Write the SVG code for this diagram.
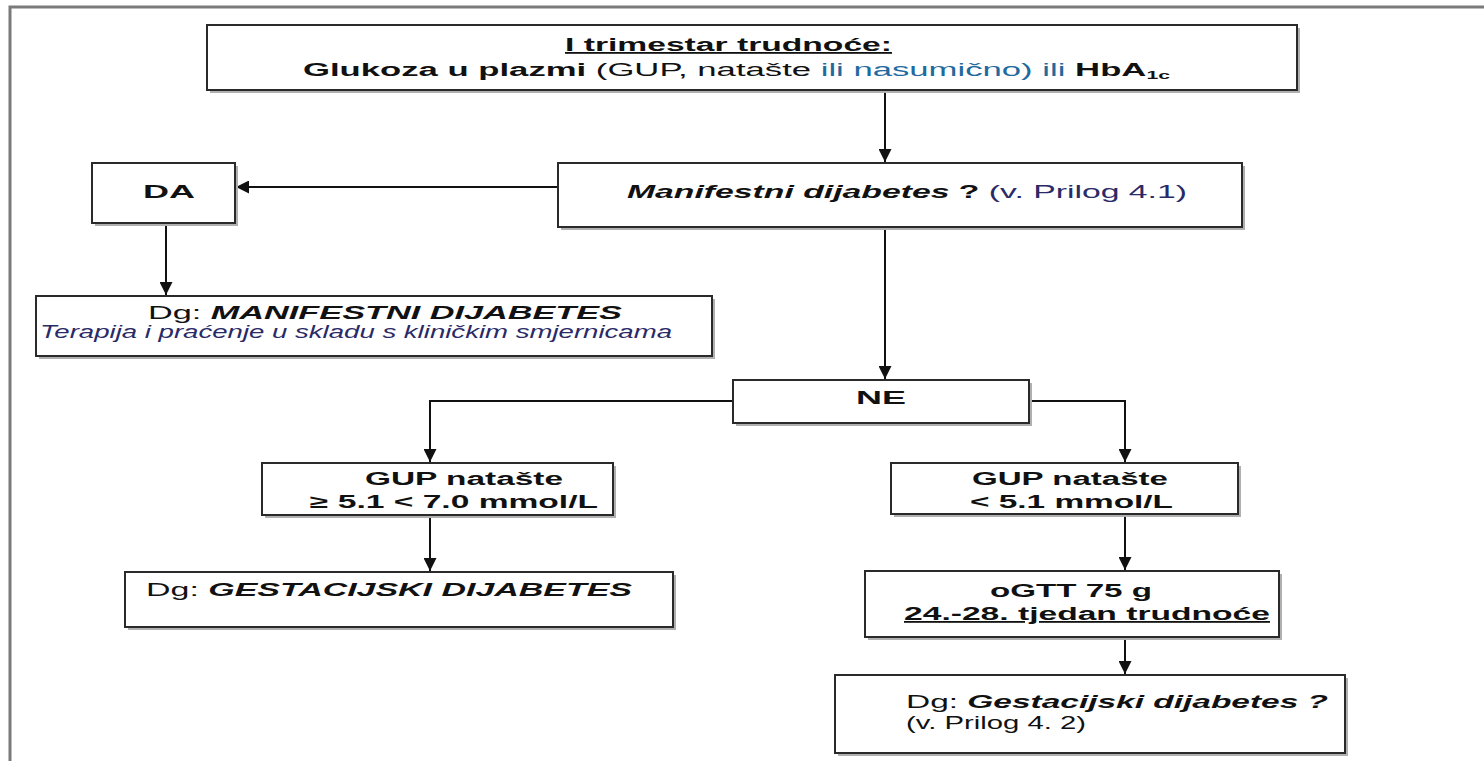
<svg xmlns="http://www.w3.org/2000/svg" width="1484" height="761" viewBox="0 0 1484 761">
<style>
.box{fill:#fff;stroke:#2a2a2a;stroke-width:2}
.sh{fill:#b0b0b0;stroke:none}
.t{font-family:"Liberation Sans",Arial,sans-serif;font-size:18px;fill:#111}
.b{font-weight:bold}
.i{font-style:italic}
.bl{fill:#1f6a9e}
.nv{fill:#2a2a66}
.c{stroke:#111;stroke-width:2;fill:none}
.frame{stroke:#7a7a7a;stroke-width:3;fill:none}
</style>
<defs>
<marker id="ah" viewBox="0 0 12 12" refX="12" refY="6" markerWidth="13" markerHeight="13" markerUnits="userSpaceOnUse" orient="auto">
<path d="M0,0 L12,6 L0,12 Z" fill="#111"/>
</marker>
</defs>
<rect width="1484" height="761" fill="#fff"/>
<path class="frame" d="M10,761 L10,7 L1484,7"/>

<g id="connectors">
<path class="c" d="M885,91 L885,162" marker-end="url(#ah)"/>
<path class="c" d="M558,187 L236,187" marker-end="url(#ah)"/>
<path class="c" d="M166,224 L166,295" marker-end="url(#ah)"/>
<path class="c" d="M885,228 L885,379" marker-end="url(#ah)"/>
<path class="c" d="M733,401 L430,401 L430,462" marker-end="url(#ah)"/>
<path class="c" d="M1029,401 L1125,401 L1125,462" marker-end="url(#ah)"/>
<path class="c" d="M430,516 L430,571" marker-end="url(#ah)"/>
<path class="c" d="M1125,515 L1125,570" marker-end="url(#ah)"/>
<path class="c" d="M1125,638 L1125,674" marker-end="url(#ah)"/>
</g>

<g id="n-trimestar">
<rect class="sh" x="210" y="28" width="1090" height="65"/>
<rect class="box" x="207" y="25" width="1090" height="65"/>
<text class="t b" x="565" y="51" textLength="327" lengthAdjust="spacingAndGlyphs" text-decoration="underline">I trimestar trudnoće:</text>
<text class="t" x="303" y="76" textLength="867" lengthAdjust="spacingAndGlyphs"><tspan class="b">Glukoza u plazmi</tspan> (GUP, natašte <tspan class="bl">ili nasumično)</tspan> <tspan class="bl">ili</tspan> <tspan class="b">HbA<tspan font-size="11" dy="3">1c</tspan></tspan></text>
</g>

<g id="n-manifestni">
<rect class="sh" x="561" y="166" width="684" height="64"/>
<rect class="box" x="558" y="163" width="684" height="64"/>
<text class="t" x="627" y="198" textLength="560" lengthAdjust="spacingAndGlyphs"><tspan class="b i">Manifestni dijabetes</tspan> <tspan class="b">?</tspan> <tspan class="nv">(v. Prilog 4.1)</tspan></text>
</g>

<g id="n-da">
<rect class="sh" x="95" y="166" width="143" height="60"/>
<rect class="box" x="92" y="163" width="143" height="60"/>
<text class="t b" x="143" y="198" textLength="52" lengthAdjust="spacingAndGlyphs">DA</text>
</g>

<g id="n-dg-manifestni">
<rect class="sh" x="39" y="299" width="676" height="60"/>
<rect class="box" x="36" y="296" width="676" height="60"/>
<text class="t" x="148" y="319" textLength="474" lengthAdjust="spacingAndGlyphs">Dg:  <tspan class="b i">MANIFESTNI DIJABETES</tspan></text>
<text class="t i nv" x="40" y="338" font-size="15" textLength="632" lengthAdjust="spacingAndGlyphs">Terapija i praćenje u skladu s kliničkim  smjernicama</text>
</g>

<g id="n-ne">
<rect class="sh" x="736" y="383" width="296" height="43"/>
<rect class="box" x="733" y="380" width="296" height="43"/>
<text class="t b" x="856" y="404" textLength="50" lengthAdjust="spacingAndGlyphs">NE</text>
</g>

<g id="n-gup-high">
<rect class="sh" x="265" y="466" width="351" height="52"/>
<rect class="box" x="262" y="463" width="351" height="52"/>
<text class="t b" x="365" y="485" textLength="198" lengthAdjust="spacingAndGlyphs">GUP natašte</text>
<text class="t b" x="310" y="508" textLength="288" lengthAdjust="spacingAndGlyphs">≥ 5.1 &lt; 7.0 mmol/L</text>
</g>

<g id="n-gup-low">
<rect class="sh" x="894" y="466" width="347" height="51"/>
<rect class="box" x="891" y="463" width="347" height="51"/>
<text class="t b" x="972" y="485" textLength="196" lengthAdjust="spacingAndGlyphs">GUP natašte</text>
<text class="t b" x="970" y="508" textLength="203" lengthAdjust="spacingAndGlyphs">&lt; 5.1 mmol/L</text>
</g>

<g id="n-dg-gestacijski">
<rect class="sh" x="128" y="575" width="548" height="55"/>
<rect class="box" x="125" y="572" width="548" height="55"/>
<text class="t" x="146" y="596" textLength="486" lengthAdjust="spacingAndGlyphs">Dg: <tspan class="b i">GESTACIJSKI DIJABETES</tspan></text>
</g>

<g id="n-ogtt">
<rect class="sh" x="868" y="574" width="414" height="66"/>
<rect class="box" x="865" y="571" width="414" height="66"/>
<text class="t b" x="990" y="597" textLength="162" lengthAdjust="spacingAndGlyphs">oGTT 75 g</text>
<text class="t b" x="904" y="620" textLength="366" lengthAdjust="spacingAndGlyphs" text-decoration="underline">24.-28. tjedan trudnoće</text>
</g>

<g id="n-dg-gestacijski-q">
<rect class="sh" x="838" y="678" width="510" height="78"/>
<rect class="box" x="835" y="675" width="510" height="78"/>
<text class="t" x="906" y="708" textLength="422" lengthAdjust="spacingAndGlyphs">Dg: <tspan class="b i">Gestacijski dijabetes ?</tspan></text>
<text class="t" x="906" y="729" textLength="180" lengthAdjust="spacingAndGlyphs">(v. Prilog 4. 2)</text>
</g>
</svg>
